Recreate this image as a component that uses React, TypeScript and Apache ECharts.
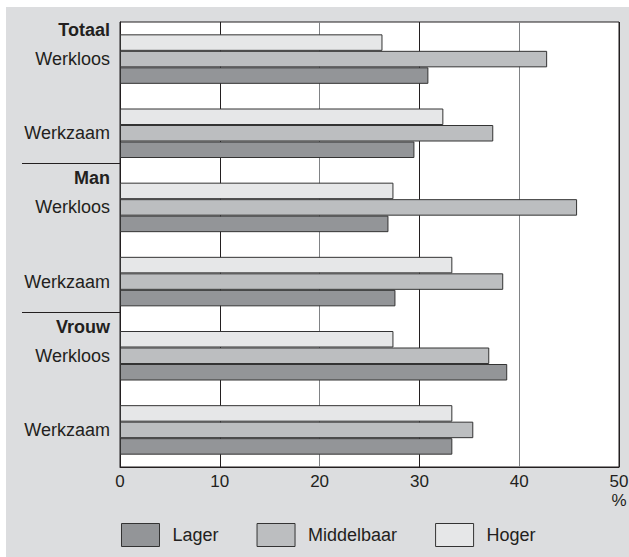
import React, { useEffect, useRef } from 'react';
import * as echarts from 'echarts';

const groups = ['Totaal', 'Man', 'Vrouw'];
const statuses = ['Werkloos', 'Werkzaam'];
const categories = groups.flatMap((g) => statuses.map((s) => `${g}|${s}`));
const seriesNames = ['Lager', 'Middelbaar', 'Hoger'];
const lager = [30.9, 29.5, 26.9, 27.6, 38.8, 33.3];
const middelbaar = [42.8, 37.4, 45.8, 38.4, 37.0, 35.4];
const hoger = [26.3, 32.4, 27.4, 33.3, 27.4, 33.3];
const xMin = 0;
const xMax = 50;
const xInterval = 10;
const unitLabel = '%';

const FONT = '"Liberation Sans", Arial, Helvetica, sans-serif';
const TEXT = '#231f20';
const colors: Record<string, string> = {
  Lager: '#939598',
  Middelbaar: '#bcbec0',
  Hoger: '#e6e7e8',
};

export default function App() {
  const ref = useRef<HTMLDivElement>(null);
  useEffect(() => {
    if (!ref.current) return;
    const chart = echarts.init(ref.current, null, { renderer: 'svg' });
    const valuesByName: Record<string, number[]> = { Lager: lager, Middelbaar: middelbaar, Hoger: hoger };
    const order = ['Hoger', 'Middelbaar', 'Lager'];
    chart.setOption({
      animation: false,
      backgroundColor: 'transparent',
      textStyle: { fontFamily: FONT },
      grid: {
        left: 114,
        top: 15,
        width: 499,
        height: 445,
        show: true,
        containLabel: false,
        outerBoundsMode: 'none',
        backgroundColor: '#ffffff',
        borderColor: '#231f20',
        borderWidth: 1,
      },
      legend: {
        data: seriesNames,
        left: 115,
        top: 516,
        padding: 0,
        itemWidth: 38,
        itemHeight: 23,
        itemGap: 38,
        icon: 'rect',
        textStyle: { fontSize: 18, color: TEXT, fontFamily: FONT, padding: [10, 0, 0, 8] },
        itemStyle: { borderColor: '#333', borderWidth: 1 },
      },
      xAxis: {
        type: 'value',
        min: xMin,
        max: xMax,
        interval: xInterval,
        axisLine: { show: true, lineStyle: { color: '#231f20', width: 1 } },
        axisTick: { show: false },
        axisLabel: { fontSize: 17, color: TEXT, margin: 6, fontFamily: FONT },
        splitLine: {
          show: true,
          showMinLine: true,
          showMaxLine: true,
          lineStyle: { color: ['#231f20', '#231f20', '#808285', '#231f20', '#808285', '#231f20'], width: 1 },
        },
      },
      yAxis: {
        type: 'category',
        inverse: true,
        data: categories,
        axisLine: { show: true, lineStyle: { color: '#231f20', width: 1 } },
        axisTick: { show: false },
        splitLine: { show: false },
        axisLabel: {
          margin: 10,
          color: TEXT,
          fontFamily: FONT,
          formatter: (val: string) => {
            const [g, s] = val.split('|');
            if (s === statuses[0]) return `{h|${g}}\n{n|${s}}\n{e| }`;
            return `{n|${s}}`;
          },
          rich: {
            h: { fontSize: 18, fontWeight: 'bold', lineHeight: 29, align: 'right', color: TEXT, fontFamily: FONT },
            n: { fontSize: 18, lineHeight: 29, align: 'right', color: TEXT, fontFamily: FONT },
            e: { fontSize: 18, lineHeight: 29, align: 'right', color: TEXT, fontFamily: FONT },
          },
        },
      },
      series: order.map((name) => ({
        name,
        type: 'bar',
        data: valuesByName[name],
        barWidth: 16.5,
        barGap: '0%',
        itemStyle: { color: colors[name], borderColor: '#333333', borderWidth: 1 },
      })),
    });

    const graphics: any[] = [];
    const xLeft = chart.convertToPixel({ xAxisIndex: 0 }, xMin) as number;
    const xRight = chart.convertToPixel({ xAxisIndex: 0 }, xMax) as number;
    const lastCenter = chart.convertToPixel({ yAxisIndex: 0 }, categories[categories.length - 1]) as number;
    const firstCenter = chart.convertToPixel({ yAxisIndex: 0 }, categories[0]) as number;
    const band = categories.length > 1 ? (lastCenter - firstCenter) / (categories.length - 1) : 0;
    const axisY = lastCenter + band / 2;
    [1, 3].forEach((i) => {
      const c1 = chart.convertToPixel({ yAxisIndex: 0 }, categories[i]) as number;
      const c2 = chart.convertToPixel({ yAxisIndex: 0 }, categories[i + 1]) as number;
      const y = Math.round((c1 + c2) / 2 - 7) + 0.5;
      graphics.push({
        type: 'line',
        shape: { x1: 16, y1: y, x2: xLeft, y2: y },
        style: { stroke: '#231f20', lineWidth: 1 },
      });
    });
    graphics.push({
      type: 'text',
      x: xRight,
      y: axisY + 33,
      style: {
        text: unitLabel,
        fontSize: 17,
        fontFamily: FONT,
        fill: TEXT,
        align: 'center',
        verticalAlign: 'middle',
      },
    });
    chart.setOption({ graphic: graphics });

    return () => chart.dispose();
  }, []);

  return (
    <div style={{ position: 'fixed', left: 0, top: 0, width: 629, height: 557, background: '#ffffff' }}>
      <div
        ref={ref}
        style={{ position: 'absolute', left: 6, top: 7, width: 623, height: 550, background: '#dcdddf' }}
      />
    </div>
  );
}
